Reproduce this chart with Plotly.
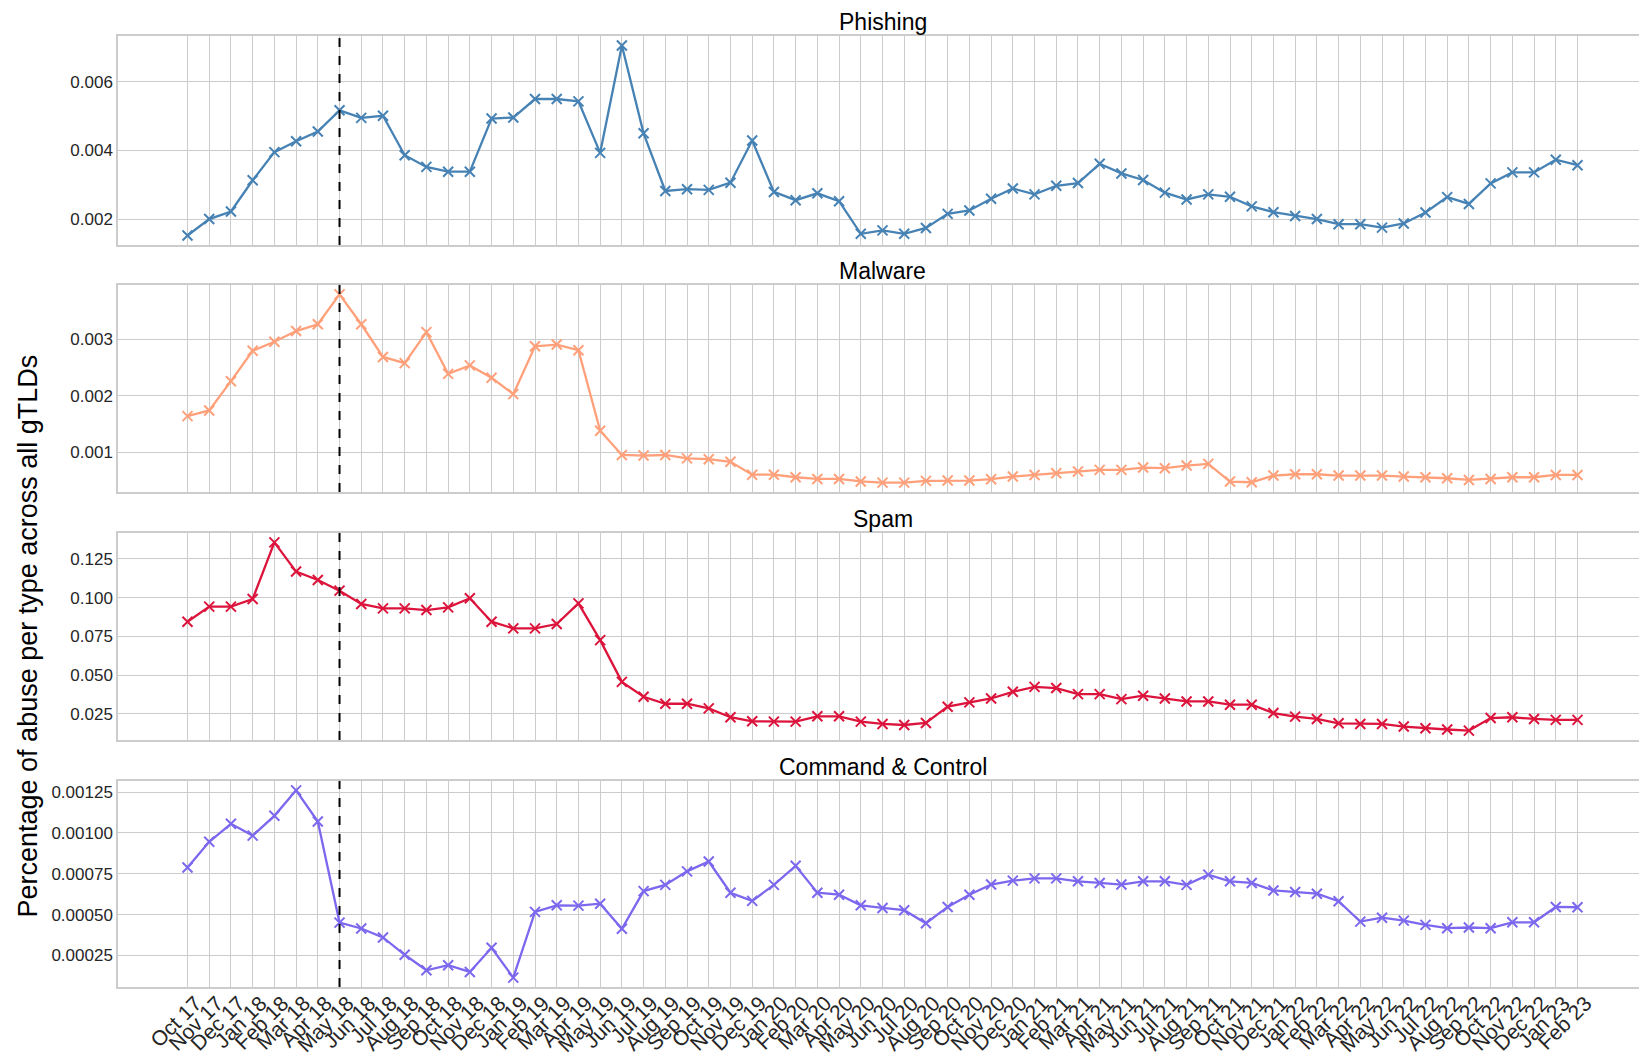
import plotly.graph_objects as go
from plotly.subplots import make_subplots

months = ["Oct 17", "Nov 17", "Dec 17",
          "Jan 18", "Feb 18", "Mar 18", "Apr 18", "May 18", "Jun 18", "Jul 18", "Aug 18", "Sep 18", "Oct 18", "Nov 18", "Dec 18",
          "Jan 19", "Feb 19", "Mar 19", "Apr 19", "May 19", "Jun 19", "Jul 19", "Aug 19", "Sep 19", "Oct 19", "Nov 19", "Dec 19",
          "Jan 20", "Feb 20", "Mar 20", "Apr 20", "May 20", "Jun 20", "Jul 20", "Aug 20", "Sep 20", "Oct 20", "Nov 20", "Dec 20",
          "Jan 21", "Feb 21", "Mar 21", "Apr 21", "May 21", "Jun 21", "Jul 21", "Aug 21", "Sep 21", "Oct 21", "Nov 21", "Dec 21",
          "Jan 22", "Feb 22", "Mar 22", "Apr 22", "May 22", "Jun 22", "Jul 22", "Aug 22", "Sep 22", "Oct 22", "Nov 22", "Dec 22",
          "Jan 23", "Feb 23"]

phishing = [0.00152, 0.00200, 0.00222, 0.00313, 0.00395, 0.00427, 0.00455, 0.00517, 0.00495, 0.00501,
            0.00386, 0.00352, 0.00338, 0.00338, 0.00493, 0.00496, 0.00550, 0.00550, 0.00543, 0.00393,
            0.00706, 0.00450, 0.00282, 0.00287, 0.00285, 0.00306, 0.00429, 0.00279, 0.00255, 0.00275,
            0.00252, 0.00157, 0.00167, 0.00157, 0.00174, 0.00215, 0.00225, 0.00259, 0.00289, 0.00272,
            0.00297, 0.00305, 0.00361, 0.00333, 0.00314, 0.00277, 0.00257, 0.00272, 0.00265, 0.00237,
            0.00220, 0.00209, 0.00200, 0.00185, 0.00185, 0.00175, 0.00187, 0.00219, 0.00264, 0.00244,
            0.00304, 0.00336, 0.00336, 0.00373, 0.00357]

malware = [0.00164, 0.00174, 0.00226, 0.00280, 0.00296, 0.00315, 0.00327, 0.00380, 0.00327, 0.00269,
           0.00258, 0.00313, 0.00239, 0.00254, 0.00232, 0.00203, 0.00288, 0.00291, 0.00281, 0.00138,
           0.00095, 0.00094, 0.00095, 0.00089, 0.000875, 0.00083, 0.00060, 0.00060, 0.000555, 0.000525,
           0.000525, 0.00048, 0.00046, 0.00046, 0.00049, 0.000496, 0.000496, 0.00052, 0.000567, 0.000596,
           0.000626, 0.000656, 0.000685, 0.000685, 0.000727, 0.000715, 0.000763, 0.000792, 0.000478, 0.000466,
           0.000585, 0.000608, 0.000608, 0.000585, 0.000585, 0.000585, 0.000567, 0.000555, 0.000537, 0.000507,
           0.000525, 0.000555, 0.000555, 0.000596, 0.000596]

spam = [0.0845, 0.0942, 0.0942, 0.0991, 0.1356, 0.1168, 0.1114, 0.1045, 0.0959, 0.0931,
        0.0931, 0.0920, 0.0937, 0.0996, 0.0845, 0.0802, 0.0802, 0.0830, 0.0963, 0.0726,
        0.0457, 0.0361, 0.0316, 0.0316, 0.0286, 0.0229, 0.0203, 0.0201, 0.0201, 0.0235,
        0.0235, 0.0201, 0.0186, 0.0179, 0.0192, 0.0297, 0.0325, 0.0350, 0.0393, 0.0425,
        0.0417, 0.0378, 0.0378, 0.0346, 0.0368, 0.0350, 0.0331, 0.0331, 0.0310, 0.0310,
        0.0256, 0.0233, 0.0218, 0.0190, 0.0186, 0.0186, 0.0169, 0.0158, 0.0150, 0.0143,
        0.0224, 0.0229, 0.0218, 0.0212, 0.0212]

command_control = [0.000789, 0.000946, 0.001056, 0.000984, 0.001105, 0.001261, 0.001070, 0.000451, 0.000415, 0.000360,
                   0.000254, 0.000159, 0.000190, 0.000149, 0.000297, 0.000114, 0.000517, 0.000557, 0.000555, 0.000567,
                   0.000413, 0.000644, 0.000682, 0.000765, 0.000825, 0.000634, 0.000584, 0.000682, 0.000799, 0.000634,
                   0.000622, 0.000557, 0.000541, 0.000527, 0.000447, 0.000547, 0.000622, 0.000684, 0.000708, 0.000722,
                   0.000722, 0.000704, 0.000694, 0.000684, 0.000704, 0.000704, 0.000682, 0.000745, 0.000704, 0.000694,
                   0.000648, 0.000638, 0.000628, 0.000582, 0.000457, 0.000481, 0.000463, 0.000437, 0.000417, 0.000421,
                   0.000417, 0.000453, 0.000453, 0.000547, 0.000545]

titles = ["Phishing", "Malware", "Spam", "Command & Control"]
series = [phishing, malware, spam, command_control]
colors = ["#4682B4", "#FFA07A", "#DC143C", "#7B68EE"]
tick_formats = [".3f", ".3f", ".3f", ".5f"]
tick_steps = [0.002, 0.001, 0.025, 0.00025]
gdpr_month = "May 18"
y_label = "Percentage of abuse per type across all gTLDs"

FONT = "Liberation Sans, Arial, sans-serif"
TXT = "#262626"
GRID = "#cccccc"

W, H = 1647, 1059
ML, MR, MT, MB = 110, 8, 28, 80
plot_h = H - MT - MB
# axes pixel spans (top, bottom) from the figure top
spans = [(28, 237), (277, 484), (525, 732), (773, 979)]
domains = [[(H - MB - b) / plot_h, (H - MB - t) / plot_h] for t, b in spans]

fig = make_subplots(rows=4, cols=1, shared_xaxes=True, vertical_spacing=0.04)

for i, (name, vals, col) in enumerate(zip(titles, series, colors)):
    r = i + 1
    fig.add_trace(go.Scatter(
        x=months, y=vals, mode="lines+markers", name=name,
        line=dict(color=col, width=2.3),
        marker=dict(symbol="x-thin", size=10, line=dict(color=col, width=2)),
        showlegend=False), row=r, col=1)
    lo, hi = min(vals), max(vals)
    pad = (hi - lo) * 0.05
    yax = "yaxis" if r == 1 else f"yaxis{r}"
    fig.layout[yax].update(
        domain=domains[i], range=[lo - pad, hi + pad],
        tickformat=tick_formats[i], dtick=tick_steps[i], tick0=0,
        showgrid=True, gridcolor=GRID, gridwidth=1.2,
        showline=True, linecolor=GRID, linewidth=1.5, mirror=True,
        zeroline=False, ticks="", ticklen=0,
        tickfont=dict(family=FONT, size=17, color=TXT), automargin=False)
    xax = "xaxis" if r == 1 else f"xaxis{r}"
    fig.layout[xax].update(
        type="category", categoryorder="array", categoryarray=months,
        range=[-3.2, len(months) - 1 + 3.2], tickmode="linear", dtick=1,
        showgrid=True, gridcolor=GRID, gridwidth=1.2,
        showline=True, linecolor=GRID, linewidth=1.5, mirror=True,
        zeroline=False, ticks="", automargin=False,
        tickangle=-45, tickfont=dict(family=FONT, size=21, color=TXT),
        ticklabelshift=8, ticklabelstandoff=-6,
        showticklabels=(r == 4))
    fig.add_shape(type="line", xref=f"x{'' if r == 1 else r}", yref=f"y{'' if r == 1 else r} domain",
                  x0=gdpr_month, x1=gdpr_month, y0=0, y1=1,
                  line=dict(color="black", width=2, dash="dash"))
    fig.add_annotation(text=name, xref="paper", yref="paper", x=0.5, y=domains[i][1],
                       xanchor="center", yanchor="middle", yshift=14, borderpad=0, showarrow=False,
                       font=dict(family=FONT, size=23, color="black"))

fig.add_annotation(text=y_label, xref="paper", yref="paper",
                   x=-91 / (W - ML - MR), y=(domains[2][0] + domains[2][1]) / 2,
                   xanchor="center", yanchor="middle", textangle=-90, showarrow=False,
                   font=dict(family=FONT, size=27, color="black"))

fig.update_layout(width=W, height=H, margin=dict(l=ML, r=MR, t=MT, b=MB),
                  plot_bgcolor="white", paper_bgcolor="white",
                  font=dict(family=FONT, color=TXT))

fig.write_html("out.html")
